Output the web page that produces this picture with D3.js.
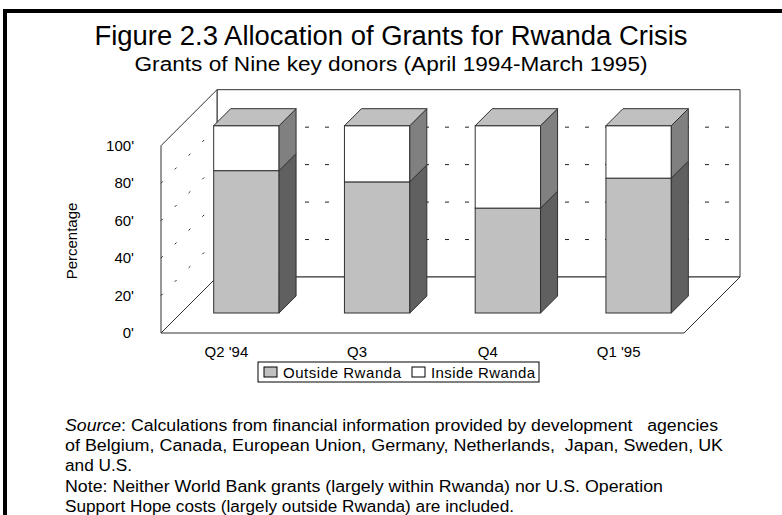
<!DOCTYPE html>
<html><head><meta charset="utf-8">
<script src="https://cdn.jsdelivr.net/npm/d3@7"></script>
<style>
html,body{margin:0;padding:0;background:#fff;}
svg{display:block;font-family:"Liberation Sans",Arial,sans-serif;}
</style></head>
<body><svg id="c" width="782" height="515"></svg>
<script>
const categories = ["Q2 '94", "Q3", "Q4", "Q1 '95"];
const outsideRwanda = [76, 70, 56, 72];
const insideRwanda = [24, 30, 44, 28];
const seriesNames = ["Outside Rwanda", "Inside Rwanda"];
const yTicks = [0, 20, 40, 60, 80, 100];
const yTickLabels = ["0'", "20'", "40'", "60'", "80'", "100'"];
const titleText = "Figure 2.3 Allocation of Grants for Rwanda Crisis";
const subtitleText = "Grants of Nine key donors (April 1994-March 1995)";
const noteLines = [
  ["Source", ": Calculations from financial information provided by development \u00a0 agencies"],
  ["", "of Belgium, Canada, European Union, Germany, Netherlands, \u00a0Japan, Sweden, UK"],
  ["", "and U.S."],
  ["", "Note: Neither World Bank grants (largely within Rwanda) nor U.S. Operation"],
  ["", "Support Hope costs (largely outside Rwanda) are included."]
];

const svg = d3.select("#c");
const colors = {outside: "#c0c0c0", inside: "#ffffff"};
const sideColors = {outside: "#606060", inside: "#808080"};
const edge = "#303030";

// frame
svg.append("rect").attr("x", 3).attr("y", 9).attr("width", 4).attr("height", 506).attr("fill", "#000");
svg.append("rect").attr("x", 3).attr("y", 9).attr("width", 779).attr("height", 4).attr("fill", "#000");

// titles
svg.append("text").attr("x", 391).attr("y", 45).attr("text-anchor", "middle")
  .attr("font-size", 27).attr("textLength", 593).attr("lengthAdjust", "spacingAndGlyphs").text(titleText);
svg.append("text").attr("x", 391).attr("y", 71).attr("text-anchor", "middle")
  .attr("font-size", 20).attr("textLength", 513).attr("lengthAdjust", "spacingAndGlyphs").text(subtitleText);

// scales
const x = d3.scaleBand().domain(categories).range([161, 684]).paddingInner(0).paddingOuter(0);
const y = d3.scaleLinear().domain([0, 100]).range([333, 145.7]);
const wallD = 56, barFront = 20, barDepth = 17;
const x0 = x.range()[0], x1 = x.range()[1];
const line = d3.line();

// back wall
svg.append("path").attr("d", line([[x0 + wallD, y(0) - wallD], [x1 + wallD, y(0) - wallD], [x1 + wallD, y(100) - wallD], [x0 + wallD, y(100) - wallD]]) + "Z")
  .attr("fill", "#fff").attr("stroke", edge).attr("stroke-width", 1);
// left wall
svg.append("path").attr("d", line([[x0, y(0)], [x0, y(100)], [x0 + wallD, y(100) - wallD], [x0 + wallD, y(0) - wallD]]) + "Z")
  .attr("fill", "#fff").attr("stroke", edge).attr("stroke-width", 1);
// floor
svg.append("path").attr("d", line([[x0, y(0)], [x1, y(0)], [x1 + wallD, y(0) - wallD], [x0 + wallD, y(0) - wallD]]) + "Z")
  .attr("fill", "#fff").attr("stroke", edge).attr("stroke-width", 1);

// gridlines
const grid = yTicks.filter(v => v > 0 && v < 100);
svg.selectAll(".gb").data(grid).enter().append("line")
  .attr("x1", x0 + wallD).attr("x2", x1 + wallD)
  .attr("y1", d => y(d) - wallD).attr("y2", d => y(d) - wallD)
  .attr("stroke", "#222").attr("stroke-dasharray", "4,16").attr("stroke-dashoffset", -8);
svg.selectAll(".gl").data(grid).enter().append("line")
  .attr("x1", x0).attr("x2", x0 + wallD)
  .attr("y1", d => y(d)).attr("y2", d => y(d) - wallD)
  .attr("stroke", "#222").attr("stroke-dasharray", "2.5,17");

// bars
const rows = categories.map((c, i) => ({cat: c, outside: outsideRwanda[i], inside: insideRwanda[i]}));
const stack = d3.stack().keys(["outside", "inside"])(rows);
const bw = x.bandwidth() * 0.5;
rows.forEach((r, i) => {
  const L = x(r.cat) + (x.bandwidth() - bw) / 2 + barFront;
  const R = L + bw;
  const g = svg.append("g");
  stack.forEach(s => {
    const v0 = s[i][0], v1 = s[i][1];
    const yt = y(v1) - barFront, yb = y(v0) - barFront;
    g.append("rect").attr("x", L).attr("y", yt).attr("width", bw).attr("height", yb - yt)
      .attr("fill", colors[s.key]).attr("stroke", edge);
    g.append("path").attr("d", line([[R, yt], [R + barDepth, yt - barDepth], [R + barDepth, yb - barDepth], [R, yb]]) + "Z")
      .attr("fill", sideColors[s.key]).attr("stroke", edge);
  });
  const top = y(100) - barFront;
  g.append("path").attr("d", line([[L, top], [L + barDepth, top - barDepth], [R + barDepth, top - barDepth], [R, top]]) + "Z")
    .attr("fill", "#c0c0c0").attr("stroke", edge);
});

// y axis labels
svg.selectAll(".yl").data(yTicks).enter().append("text")
  .attr("x", 134).attr("y", d => y(d) + 5).attr("text-anchor", "end")
  .attr("font-size", 15).text((d, i) => yTickLabels[i]);
svg.append("text").attr("transform", "translate(77,241) rotate(-90)").attr("text-anchor", "middle")
  .attr("font-size", 15).text("Percentage");

// category labels
svg.selectAll(".xl").data(categories).enter().append("text")
  .attr("x", d => x(d) + x.bandwidth() / 2).attr("y", 357).attr("text-anchor", "middle")
  .attr("font-size", 15).text(d => d);

// legend
const lg = svg.append("g");
lg.append("rect").attr("x", 258).attr("y", 362).attr("width", 281).attr("height", 20).attr("fill", "#fff").attr("stroke", "#000");
const legX = [264, 412];
const legW = [118, 104];
seriesNames.forEach((n, i) => {
  lg.append("rect").attr("x", legX[i]).attr("y", 367).attr("width", 13).attr("height", 10)
    .attr("fill", i === 0 ? colors.outside : colors.inside).attr("stroke", "#000");
  lg.append("text").attr("x", legX[i] + 19).attr("y", 377.5).attr("font-size", 15)
    .attr("textLength", legW[i]).attr("lengthAdjust", "spacing").text(n);
});

// notes
const noteY = [431, 451, 471, 492, 512];
const noteW = [653, 658, 67, 598, 449];
noteLines.forEach((ln, i) => {
  const t = svg.append("text").attr("x", 65).attr("y", noteY[i]).attr("font-size", 16)
    .attr("textLength", noteW[i]).attr("lengthAdjust", "spacingAndGlyphs");
  if (ln[0]) t.append("tspan").attr("font-style", "italic").text(ln[0]);
  t.append("tspan").text(ln[1]);
});
</script></body></html>
